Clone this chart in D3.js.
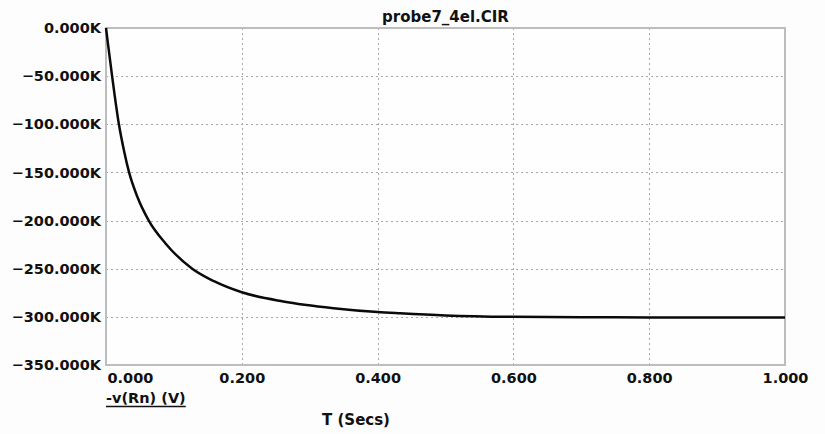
<!DOCTYPE html>
<html>
<head>
<meta charset="utf-8">
<script src="https://cdn.jsdelivr.net/npm/d3@7/dist/d3.min.js"></script>
<style>
  html, body { margin: 0; padding: 0; background: #fdfdfd; }
  svg { display: block; }
  text { font-family: "DejaVu Sans", sans-serif; fill: #111; }
</style>
</head>
<body>
<svg id="chart" width="825" height="434"></svg>
<script>
// Data (values in K units)
const timeSecs = [0, 0.003, 0.009, 0.019, 0.027, 0.034, 0.046, 0.063, 0.088, 0.127, 0.159, 0.200, 0.261, 0.335, 0.400, 0.433, 0.500, 0.600, 0.700, 0.800, 0.900, 1.000];
const vRn = [0, -17, -50, -100, -129, -150, -175, -200, -224, -250, -263, -274.5, -284, -291, -295, -296.3, -298.5, -300, -300.4, -300.6, -300.7, -300.7];
const xTicks = [0, 0.2, 0.4, 0.6, 0.8, 1.0];
const yTicks = [0, -50, -100, -150, -200, -250, -300, -350];
const title = "probe7_4el.CIR";
const seriesLabel = "-v(Rn) (V)";
const xLabel = "T (Secs)";

const svg = d3.select("#chart");
const margin = { left: 106, top: 28, right: 40, bottom: 69 };
const W = 825, H = 434;
const x = d3.scaleLinear().domain([0, 1]).range([margin.left, W - margin.right]);
const y = d3.scaleLinear().domain([-350, 0]).range([H - margin.bottom, margin.top]);

// plot background
svg.append("rect").attr("x", x(0)).attr("y", y(0))
  .attr("width", x(1) - x(0)).attr("height", y(-350) - y(0))
  .attr("fill", "#fefefe");

// grid
const grid = svg.append("g").attr("stroke", "#a8a8a8").attr("stroke-width", 1).attr("stroke-dasharray", "2,3");
grid.selectAll("line.v").data(xTicks.slice(1, -1)).join("line")
  .attr("x1", d => Math.round(x(d)) + 0.5).attr("x2", d => Math.round(x(d)) + 0.5)
  .attr("y1", y(0)).attr("y2", y(-350));
grid.selectAll("line.h").data(yTicks.slice(1, -1)).join("line")
  .attr("y1", d => Math.round(y(d)) + 0.5).attr("y2", d => Math.round(y(d)) + 0.5)
  .attr("x1", x(0)).attr("x2", x(1));

// frame
svg.append("rect").attr("x", x(0)).attr("y", y(0))
  .attr("width", x(1) - x(0)).attr("height", y(-350) - y(0))
  .attr("fill", "none").attr("stroke", "#bdbdbd").attr("stroke-width", 2);

// y axis labels
const yAxis = d3.axisLeft(y).tickValues(yTicks).tickSize(0).tickPadding(5)
  .tickFormat(d => d3.format(".3f")(d) + "K");
const gy = svg.append("g").attr("transform", `translate(${x(0)},0)`).call(yAxis);
gy.select(".domain").remove();
gy.selectAll("text").attr("font-family", "DejaVu Sans").attr("font-weight", "bold")
  .attr("font-size", 14.5).attr("fill", "#111");

// x axis labels
const xAxis = d3.axisBottom(x).tickValues(xTicks).tickSize(0).tickPadding(8)
  .tickFormat(d3.format(".3f"));
const gx = svg.append("g").attr("transform", `translate(0,${y(-350)})`).call(xAxis);
gx.select(".domain").remove();
gx.selectAll("text").attr("font-family", "DejaVu Sans").attr("font-weight", "bold")
  .attr("font-size", 14.5).attr("fill", "#111")
  .attr("text-anchor", d => d === 0 ? "start" : "middle")
  .attr("dx", d => d === 0 ? 1 : 0);

// line
const line = d3.line().x((d, i) => x(timeSecs[i])).y(d => y(d)).curve(d3.curveMonotoneX);
svg.append("path").datum(vRn).attr("d", line)
  .attr("fill", "none").attr("stroke", "#0a0a0a").attr("stroke-width", 2.5)
  .attr("stroke-linejoin", "round");

// title
svg.append("text").attr("x", (x(0) + x(1)) / 2).attr("y", 22).attr("text-anchor", "middle")
  .attr("font-size", 15).attr("font-weight", "bold").text(title);

// series label (underlined)
const sl = svg.append("text").attr("x", x(0)).attr("y", 403)
  .attr("font-size", 14.5).attr("font-weight", "bold").text(seriesLabel);
const bb = sl.node().getBBox();
svg.append("line").attr("x1", bb.x).attr("x2", bb.x + bb.width)
  .attr("y1", 406.5).attr("y2", 406.5).attr("stroke", "#111").attr("stroke-width", 1.3);

// x label
svg.append("text").attr("x", 356).attr("y", 425).attr("text-anchor", "middle")
  .attr("font-size", 15).attr("font-weight", "bold").text(xLabel);
</script>
</body>
</html>
